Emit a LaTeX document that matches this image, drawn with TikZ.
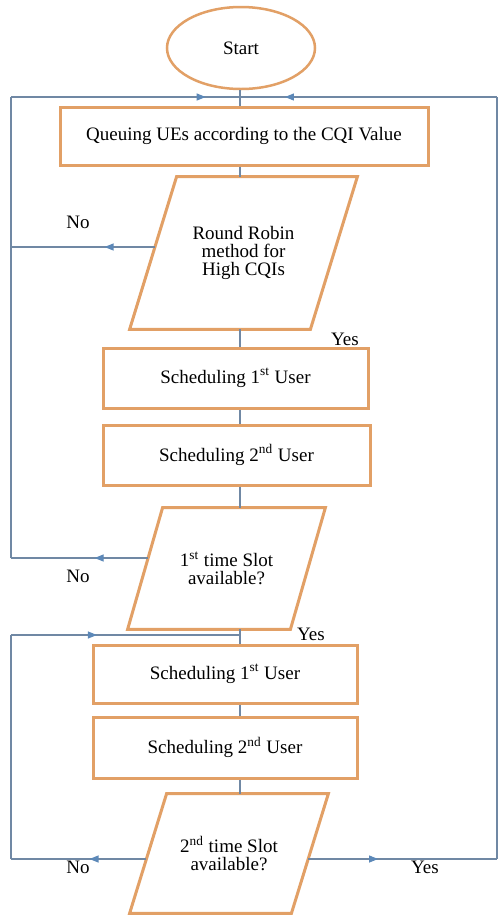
\documentclass[tikz,border=0pt]{standalone}
\usepackage{fontspec}
\setmainfont{Liberation Serif}
\usetikzlibrary{positioning,shapes.geometric,arrows.meta,decorations.markings}

\begin{document}
\begin{tikzpicture}[x=0.5pt, y=-0.5pt,
	font=\fontsize{9.5}{9}\selectfont,
	procbox/.style={rectangle, draw=flowor, line width=1.5pt, fill=white, align=center},
	iotext/.style={rectangle, align=center},
	ioframe/.style={draw=flowor, line width=1.5pt},
	link/.style={draw=flowln, line width=0.6pt},
	tipat/.style={postaction={decorate}, decoration={markings, mark=at position #1 with {\arrow{Triangle[length=4.5pt, width=3.5pt, color=flowtip]}}}},
	lbl/.style={inner sep=1pt}]

		% Farben definieren
		\definecolor{flowor}{RGB}{226,160,102}
		\definecolor{flowln}{RGB}{112,136,164}
		\definecolor{flowtip}{RGB}{92,136,184}

		\path[use as bounding box, fill=white] (0,0) rectangle (498,917);

		% --- Hilfspunkte ---
		\coordinate (spine) at (240,0);
		\coordinate (lrail) at (11,0);
		\coordinate (rrail) at (497,0);
		\coordinate (jtop) at (240,97);
		\coordinate (jmid) at (240,635);

		% --- Bloecke ---
		\node[ellipse, draw=flowor, line width=1.25pt, fill=white, minimum width=74pt, minimum height=41pt] (start) at (241,48) {Start};
		\node[procbox, minimum width=184pt, minimum height=29pt] (queue) at (244,136) {Queuing UEs according to the CQI Value};
		\node[iotext, minimum width=113.5pt, minimum height=76pt] (rrobin) at (243.5,253) {Round Robin\\method for\\High CQIs};
		\node[procbox, minimum width=132.5pt, minimum height=30pt] (userA) at (235.5,378) {Scheduling 1\textsuperscript{st} User};
		\node[procbox, minimum width=133.5pt, minimum height=30pt] (userB) at (236.5,455) {Scheduling 2\textsuperscript{nd} User};
		\node[iotext, minimum width=98.5pt, minimum height=60.5pt] (slotA) at (226.5,568.5) {1\textsuperscript{st} time Slot\\available?};
		\node[procbox, minimum width=132pt, minimum height=29pt] (userC) at (225,674) {Scheduling 1\textsuperscript{st} User};
		\node[procbox, minimum width=132pt, minimum height=30.5pt] (userD) at (225,747.5) {Scheduling 2\textsuperscript{nd} User};
		\node[iotext, minimum width=99pt, minimum height=59.5pt] (slotB) at (229,853.5) {2\textsuperscript{nd} time Slot\\available?};

		% Parallelogramme
		\foreach \n/\s in {rrobin/23.5pt, slotA/17.5pt, slotB/18.5pt}
			\draw[ioframe] ([xshift=\s]\n.north west) -- (\n.north east) -- ([xshift=-\s]\n.south east) -- (\n.south west) -- cycle;

		% --- Verbindungen ---
		\foreach \a/\b in {start/queue, queue/rrobin, rrobin/userA, userA/userB, userB/slotA, slotA/userC, userC/userD, userD/slotB}
			\draw[link] (\a.south -| spine) -- (\b.north -| spine);

		% erste Schleife (No)
		\draw[link, tipat=0.35] ([xshift=12.7pt, yshift=3pt]rrobin.west) -- ([yshift=3pt]rrobin.west -| lrail);
		\draw[link, tipat=0.39] ([xshift=10.25pt, yshift=5.25pt]slotA.west) -- ([yshift=5.25pt]slotA.west -| lrail);
		\draw[link] ([yshift=5.25pt]slotA.west -| lrail) -- (lrail |- jtop);
		\draw[link, tipat=0.85] (lrail |- jtop) -- (jtop);

		% zweite Schleife (No)
		\draw[link, tipat=0.42] ([xshift=8.4pt, yshift=-2.75pt]slotB.west) -- ([yshift=-2.75pt]slotB.west -| lrail);
		\draw[link] ([yshift=-2.75pt]slotB.west -| lrail) -- (lrail |- jmid);
		\draw[link, tipat=0.375] (lrail |- jmid) -- (jmid);

		% Yes zurueck nach oben
		\draw[link, tipat=0.37] ([xshift=-10.1pt, yshift=-2.75pt]slotB.east) -- ([yshift=-2.75pt]slotB.east -| rrail);
		\draw[link] ([yshift=-2.75pt]slotB.east -| rrail) -- (rrail |- jtop);
		\draw[link, tipat=0.825] (rrail |- jtop) -- (jtop);

		% Beschriftung
		\node[lbl] (noA) at (78,222) {No};
		\node[lbl] (yesA) at (345,339) {Yes};
		\node[lbl] (noB) at (78,576) {No};
		\node[lbl] (yesB) at (311,634) {Yes};
		\node[lbl] (noC) at (78,867) {No};
		\node[lbl] (yesC) at (425,867) {Yes};

	\end{tikzpicture}
\end{document}
